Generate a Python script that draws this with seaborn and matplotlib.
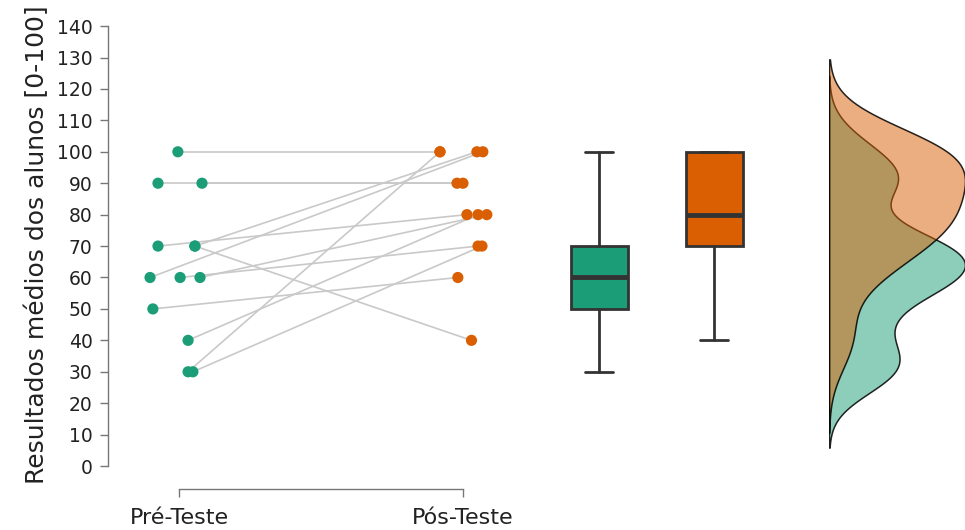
import numpy as np
import pandas as pd
import seaborn as sns
import matplotlib.pyplot as plt
from matplotlib.colors import to_rgba

# scores per student (same order in both lists -> paired lines)
pre_scores = [100, 90, 90, 70, 70, 70, 60, 60, 60, 50, 40, 30, 30]
post_scores = [100, 90, 90, 80, 100, 40, 100, 70, 80, 60, 80, 100, 70]
# horizontal jitter (category units)
pre_jitter = [-0.004, -0.074, 0.081, -0.074, 0.056, 0.056, -0.102, 0.004, 0.074,
              -0.092, 0.032, 0.032, 0.049]
post_jitter = [-0.081, -0.021, 0.0, 0.014, 0.049, 0.03, 0.070, 0.053, 0.084,
               -0.018, 0.053, -0.081, 0.067]

phases = ['Pré-Teste', 'Pós-Teste']
colors = ['#1b9e77', '#d95f02']
box_pos = [1.48, 1.885]

y_label = 'Resultados médios dos alunos [0-100]'

n = len(pre_scores)
df = pd.DataFrame({
    'student': list(range(n)) * 2,
    'phase': [phases[0]] * n + [phases[1]] * n,
    'score': pre_scores + post_scores,
    'xpos': [0 + j for j in pre_jitter] + [1 + j for j in post_jitter],
})


def nrd0_adjust(vals):
    # R's default bandwidth expressed as a factor of seaborn's Scott bandwidth
    v = np.asarray(vals, dtype=float)
    sd = v.std(ddof=1)
    iqr = np.subtract(*np.percentile(v, [75, 25]))
    return 0.9 * min(sd, iqr / 1.34) / sd


sns.set_style('white')
plt.rcParams['font.family'] = ['DejaVu Sans']

fig = plt.figure(figsize=(9.65, 5.3), dpi=100)
ax = fig.add_axes([108 / 965, 41 / 530, (829 - 108) / 965, 489 / 530])
ax2 = fig.add_axes([829 / 965, 41 / 530, (965 - 829) / 965, 489 / 530], sharey=ax)

# paired lines
sns.lineplot(data=df, x='xpos', y='score', units='student', estimator=None,
             sort=False, color='#c9c9c9', linewidth=1.2, ax=ax, zorder=1)
# points
sns.scatterplot(data=df, x='xpos', y='score', hue='phase', palette=colors,
                s=65, edgecolor='none', legend=False, ax=ax, zorder=3)

# boxes
bp = ax.boxplot([pre_scores, post_scores], positions=box_pos, widths=0.2,
                patch_artist=True, showfliers=False, manage_ticks=False,
                boxprops=dict(edgecolor='#333333', linewidth=2),
                medianprops=dict(color='#333333', linewidth=3.5),
                whiskerprops=dict(color='#333333', linewidth=2),
                capprops=dict(color='#333333', linewidth=2))
for cap in bp['caps']:
    xd = cap.get_xdata()
    mid = (xd[0] + xd[1]) / 2
    cap.set_xdata([mid - 0.05, mid + 0.05])
for patch, c in zip(bp['boxes'], colors):
    patch.set_facecolor(c)

# densities (each scaled to the same peak width)
for vals, c in zip([pre_scores, post_scores], colors):
    sns.kdeplot(y=vals, fill=True, color=c, bw_adjust=nrd0_adjust(vals),
                cut=3, ax=ax2)
for coll in ax2.collections:
    coll.set_alpha(None)
    fc = coll.get_facecolor()[0]
    coll.set_facecolor(to_rgba(fc[:3], 0.5))
    coll.set_edgecolor(to_rgba('black', 0.85))
    coll.set_linewidth(1.1)
    for p in coll.get_paths():
        p.vertices[:, 0] = p.vertices[:, 0] / p.vertices[:, 0].max()
ax2.set_xlim(0, 1.0)
ax2.axis('off')

ax.set_xlim(-0.25, 2.289)
ax.set_ylim(-7.3, 148.3)
ax.set_yticks(range(0, 141, 10))
ax.set_xticks([0, 1])
ax.set_xticklabels(phases)
ax.set_xlabel('')
ax.set_ylabel(y_label, fontsize=18, color='#222222', labelpad=6)
for s in ['top', 'right']:
    ax.spines[s].set_visible(False)
ax.spines['left'].set_bounds(0, 140)
ax.spines['bottom'].set_bounds(0, 1)
for s in ['left', 'bottom']:
    ax.spines[s].set_color('#777777')
    ax.spines[s].set_linewidth(1)
ax.tick_params(axis='both', left=True, bottom=True, length=6, width=1,
               color='#777777', labelcolor='#222222', pad=5)
ax.tick_params(axis='y', labelsize=13.5)
ax.tick_params(axis='x', labelsize=16, pad=8)

fig.savefig('out.png', dpi=100)
